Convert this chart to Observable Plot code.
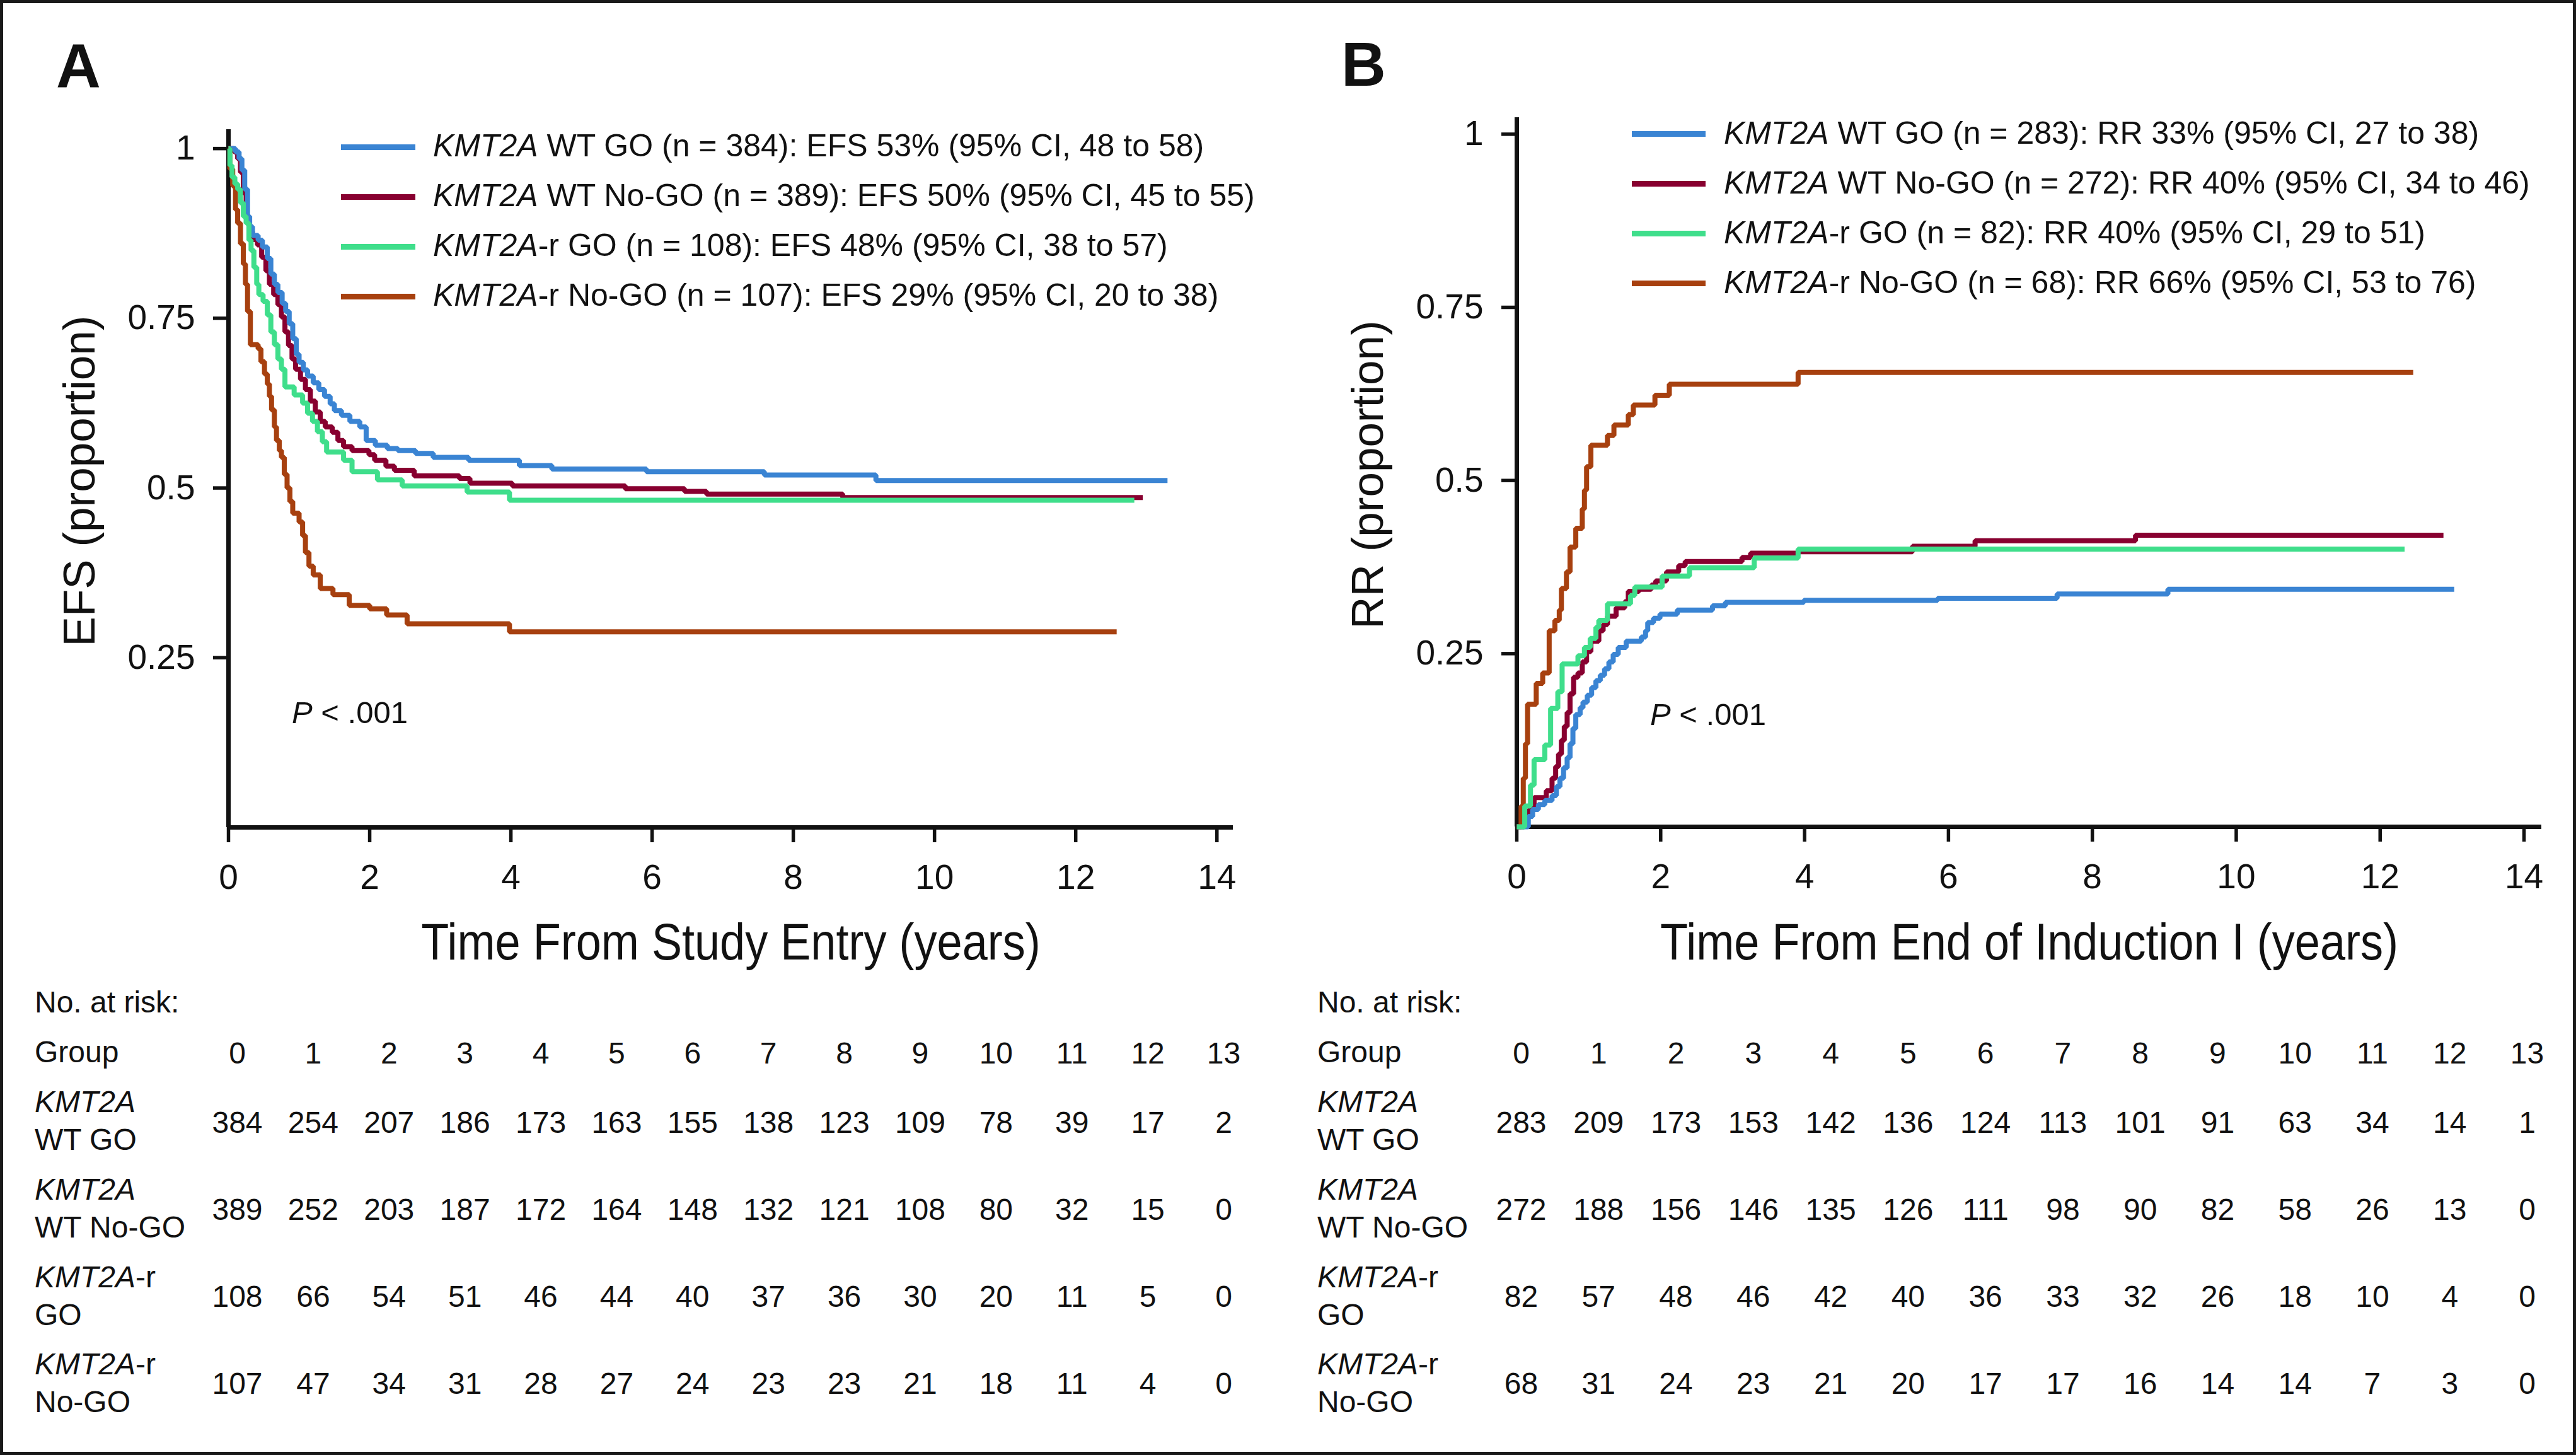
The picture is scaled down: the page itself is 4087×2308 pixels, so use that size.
<!DOCTYPE html>
<html><head><meta charset="utf-8">
<script src="https://cdn.jsdelivr.net/npm/d3@7"></script>
<script src="https://cdn.jsdelivr.net/npm/@observablehq/plot@0.6"></script>
<style>
html,body{margin:0;padding:0;background:#fff;}
#page{position:relative;width:4087px;height:2308px;overflow:hidden;background:#fff;font-family:"Liberation Sans",Arial,Helvetica,sans-serif;color:#111;}
#page > *{position:absolute;}
.frame{left:0;top:0;width:4087px;height:2308px;box-sizing:border-box;border:5px solid #1a1a1a;pointer-events:none;}
.t{white-space:nowrap;}
.sw{height:9px;}
</style></head><body><div id="page"></div>
<script>
// ---------------- DATA ----------------
const groupKeys = ["wtGo", "wtNoGo", "rGo", "rNoGo"];
const groupLabels = ["KMT2A WT GO", "KMT2A WT No-GO", "KMT2A-r GO", "KMT2A-r No-GO"];
const groupColors = ["#3a84d3", "#880030", "#3fde8b", "#a7400f"];

const xTicks = [0, 2, 4, 6, 8, 10, 12, 14];
const yTicks = [0.25, 0.5, 0.75, 1];
const yTickLabels = ["0.25", "0.5", "0.75", "1"];

// Panel A: EFS (step points: time in years, proportion)
const efsWtGoT = [0,0.10,0.15,0.19,0.23,0.27,0.30,0.34,0.42,0.48,0.55,0.60,0.65,0.70,0.76,0.81,0.86,0.91,0.96,1.00,1.06,1.12,1.20,1.28,1.36,1.44,1.50,1.60,1.72,1.86,1.95,2.08,2.25,2.40,2.65,2.90,3.40,4.12,4.58,5.92,7.59,9.17,13.3];
const efsWtGoV = [1,0.995,0.985,0.968,0.94,0.90,0.885,0.872,0.865,0.855,0.838,0.815,0.80,0.788,0.772,0.76,0.742,0.72,0.697,0.685,0.674,0.665,0.655,0.645,0.635,0.624,0.614,0.607,0.598,0.59,0.57,0.563,0.558,0.555,0.551,0.545,0.541,0.533,0.528,0.524,0.519,0.511,0.511];
const efsWtNoGoT = [0,0.08,0.13,0.17,0.21,0.25,0.29,0.34,0.41,0.47,0.53,0.58,0.64,0.70,0.75,0.80,0.85,0.90,0.95,1.02,1.09,1.16,1.23,1.30,1.37,1.47,1.55,1.63,1.75,1.99,2.07,2.23,2.35,2.63,3.27,3.42,4.02,5.62,6.46,6.77,8.7,12.95];
const efsWtNoGoV = [1,0.995,0.985,0.965,0.935,0.90,0.878,0.866,0.858,0.84,0.82,0.80,0.785,0.77,0.752,0.73,0.71,0.69,0.675,0.66,0.645,0.628,0.612,0.598,0.59,0.582,0.57,0.561,0.555,0.549,0.541,0.532,0.526,0.518,0.514,0.507,0.503,0.499,0.495,0.491,0.486,0.486];
const efsRGoT = [0,0.02,0.05,0.09,0.13,0.17,0.21,0.25,0.29,0.32,0.36,0.40,0.43,0.49,0.55,0.60,0.65,0.70,0.75,0.80,0.93,1.05,1.12,1.19,1.26,1.33,1.39,1.63,1.75,2.11,2.46,3.38,3.98,12.83];
const efsRGoV = [1,0.975,0.958,0.948,0.94,0.92,0.90,0.89,0.865,0.85,0.825,0.80,0.785,0.775,0.755,0.73,0.711,0.69,0.675,0.649,0.637,0.625,0.61,0.598,0.583,0.568,0.553,0.541,0.524,0.512,0.503,0.494,0.482,0.482];
const efsRNoGoT = [0,0.02,0.06,0.10,0.13,0.17,0.21,0.24,0.27,0.31,0.42,0.46,0.51,0.55,0.58,0.61,0.65,0.68,0.72,0.75,0.79,0.83,0.87,0.91,1.00,1.05,1.09,1.14,1.20,1.30,1.48,1.71,2.00,2.24,2.53,3.98,12.58];
const efsRNoGoV = [1,0.97,0.945,0.91,0.89,0.86,0.83,0.80,0.76,0.711,0.705,0.686,0.668,0.653,0.635,0.615,0.59,0.57,0.555,0.545,0.52,0.50,0.48,0.463,0.45,0.43,0.405,0.385,0.372,0.352,0.343,0.327,0.322,0.313,0.30,0.288,0.288];

// Panel B: RR (cumulative incidence)
const rrWtGoT = [0,0.16,0.22,0.30,0.39,0.49,0.55,0.60,0.65,0.70,0.74,0.78,0.82,0.88,0.92,0.98,1.04,1.10,1.16,1.22,1.28,1.34,1.41,1.52,1.73,1.79,1.82,1.90,1.99,2.23,2.72,2.90,3.99,5.85,7.51,9.05,13.03];
const rrWtGoV = [0,0.015,0.025,0.032,0.038,0.045,0.058,0.07,0.085,0.10,0.12,0.142,0.162,0.172,0.18,0.19,0.201,0.211,0.219,0.228,0.238,0.249,0.259,0.268,0.274,0.283,0.295,0.301,0.307,0.313,0.319,0.324,0.327,0.330,0.336,0.343,0.343];
const rrWtNoGoT = [0,0.10,0.16,0.24,0.41,0.49,0.54,0.58,0.62,0.66,0.70,0.74,0.79,0.85,0.91,0.97,1.03,1.14,1.20,1.26,1.38,1.50,1.55,1.70,1.87,1.93,2.08,2.25,2.34,3.13,3.25,3.91,5.5,6.37,8.6,12.88];
const rrWtNoGoV = [0,0.015,0.024,0.042,0.052,0.07,0.087,0.105,0.125,0.145,0.165,0.192,0.216,0.222,0.238,0.253,0.268,0.283,0.292,0.304,0.316,0.325,0.340,0.343,0.349,0.355,0.368,0.377,0.383,0.389,0.395,0.397,0.405,0.413,0.421,0.421];
const rrRGoT = [0,0.11,0.19,0.24,0.39,0.47,0.57,0.63,0.85,0.94,1.02,1.10,1.14,1.26,1.58,1.64,2.02,2.40,3.30,3.91,12.34];
const rrRGoV = [0,0.03,0.06,0.097,0.118,0.171,0.195,0.235,0.247,0.259,0.272,0.288,0.298,0.322,0.334,0.346,0.362,0.374,0.388,0.401,0.401];
const rrRNoGoT = [0,0.06,0.09,0.12,0.15,0.27,0.36,0.45,0.53,0.59,0.62,0.69,0.74,0.82,0.91,0.94,0.97,1.03,1.26,1.35,1.55,1.62,1.92,2.12,3.91,12.46];
const rrRNoGoV = [0,0.03,0.07,0.12,0.177,0.207,0.222,0.283,0.298,0.313,0.344,0.368,0.404,0.431,0.459,0.486,0.520,0.551,0.565,0.58,0.595,0.609,0.623,0.639,0.656,0.656];

// Legends
const legendA = ["KMT2A WT GO (n = 384): EFS 53% (95% CI, 48 to 58)", "KMT2A WT No-GO (n = 389): EFS 50% (95% CI, 45 to 55)", "KMT2A-r GO (n = 108): EFS 48% (95% CI, 38 to 57)", "KMT2A-r No-GO (n = 107): EFS 29% (95% CI, 20 to 38)"];
const legendB = ["KMT2A WT GO (n = 283): RR 33% (95% CI, 27 to 38)", "KMT2A WT No-GO (n = 272): RR 40% (95% CI, 34 to 46)", "KMT2A-r GO (n = 82): RR 40% (95% CI, 29 to 51)", "KMT2A-r No-GO (n = 68): RR 66% (95% CI, 53 to 76)"];

// Numbers at risk
const riskTimes = [0,1,2,3,4,5,6,7,8,9,10,11,12,13];
const riskA_wtGo   = [384,254,207,186,173,163,155,138,123,109,78,39,17,2];
const riskA_wtNoGo = [389,252,203,187,172,164,148,132,121,108,80,32,15,0];
const riskA_rGo    = [108,66,54,51,46,44,40,37,36,30,20,11,5,0];
const riskA_rNoGo  = [107,47,34,31,28,27,24,23,23,21,18,11,4,0];
const riskB_wtGo   = [283,209,173,153,142,136,124,113,101,91,63,34,14,1];
const riskB_wtNoGo = [272,188,156,146,135,126,111,98,90,82,58,26,13,0];
const riskB_rGo    = [82,57,48,46,42,40,36,33,32,26,18,10,4,0];
const riskB_rNoGo  = [68,31,24,23,21,20,17,17,16,14,14,7,3,0];

// ---------------- BUILD ----------------
const page = document.getElementById("page");
const FONT = '"Liberation Sans", Arial, Helvetica, sans-serif';
const INK = "#111";

function series(T, V) { return T.map((t, i) => ({t, v: V[i]})); }

function curvePanel(o) {
  const drawOrder = [1, 0, 3, 2];
  return Plot.plot({
    width: o.width, height: 1560,
    marginLeft: 362, marginRight: o.marginRight, marginTop: o.marginTop, marginBottom: o.marginBottom,
    x: {domain: [0, o.xMax]},
    y: {domain: [0, o.yMax]},
    style: {fontFamily: FONT, fontSize: "55px", color: INK, background: "transparent", overflow: "visible"},
    marks: [
      Plot.axisX({ticks: xTicks, tickSize: 24, tickPadding: 34, fontSize: 55, strokeWidth: 5.5, label: null}),
      Plot.axisY({ticks: yTicks, tickSize: 24, tickPadding: 29, fontSize: 55, strokeWidth: 5.5, label: null,
        tickFormat: d => yTickLabels[yTicks.indexOf(d)]}),
      Plot.ruleX([0], {stroke: INK, strokeWidth: 7}),
      Plot.ruleY([0], {stroke: INK, strokeWidth: 7}),
      ...drawOrder.map(i => Plot.line(o.series[i], {x: "t", y: "v", curve: "step-after",
        stroke: groupColors[i], strokeWidth: 8, strokeLinejoin: "miter", strokeLinecap: "butt"})),
      Plot.text([o.xLabel], {frameAnchor: "bottom", lineAnchor: "bottom", textAnchor: "middle", dy: o.xLabelDy, fontSize: 81, fill: INK}),
      Plot.text([o.yLabel], {frameAnchor: "left", lineAnchor: "middle", textAnchor: "middle", rotate: -90, dx: -235, dy: 4, fontSize: 71, fill: INK})
    ]
  });
}

function riskTable(o) {
  const data = o.rows.flatMap((vals, gi) => vals.map((n, ti) => ({time: riskTimes[ti], group: groupLabels[gi], n})));
  return Plot.plot({
    width: o.width, height: 740,
    marginLeft: o.marginLeft, marginRight: o.marginRight, marginTop: 235, marginBottom: 89,
    x: {domain: [0, 13], axis: null},
    y: {type: "point", domain: groupLabels, padding: 0, axis: null},
    style: {fontFamily: FONT, fontSize: "47px", color: INK, background: "transparent", overflow: "visible"},
    marks: [
      Plot.text(riskTimes, {x: d => d, text: d => String(d), frameAnchor: "top", lineAnchor: "bottom", dy: -109, fontSize: 48, fill: INK}),
      Plot.text(data, {x: "time", y: "group", text: d => String(d.n), lineAnchor: "bottom", fontSize: 48, fill: INK})
    ]
  });
}

function place(el, left, top) { el.style.left = left + "px"; el.style.top = top + "px"; page.appendChild(el); return el; }

function condense(svg, label, k) {
  svg.querySelectorAll("text").forEach(el => {
    if (el.textContent === label) {
      const w = el.getComputedTextLength();
      el.setAttribute("textLength", (w * k).toFixed(1));
      el.setAttribute("lengthAdjust", "spacingAndGlyphs");
    }
  });
}

const seriesA = [series(efsWtGoT, efsWtGoV), series(efsWtNoGoT, efsWtNoGoV), series(efsRGoT, efsRGoV), series(efsRNoGoT, efsRNoGoV)];
const seriesB = [series(rrWtGoT, rrWtGoV), series(rrWtNoGoT, rrWtNoGoV), series(rrRGoT, rrRGoV), series(rrRNoGoT, rrRNoGoV)];

const xLabelA = "Time From Study Entry (years)";
const xLabelB = "Time From End of Induction I (years)";

const svgA = place(curvePanel({width: 2044, marginRight: 88, marginTop: 205, marginBottom: 248, xMax: 14.23, yMax: 1.028,
  series: seriesA, xLabel: xLabelA, xLabelDy: 209, yLabel: "EFS (proportion)"}), 0, 0);
const svgB = place(curvePanel({width: 2043, marginRight: 55, marginTop: 186, marginBottom: 249, xMax: 14.245, yMax: 1.024,
  series: seriesB, xLabel: xLabelB, xLabelDy: 210, yLabel: "RR (proportion)"}), 2044, 0);
condense(svgA, xLabelA, 0.89);
condense(svgB, xLabelB, 0.89);

place(riskTable({width: 2044, marginLeft: 376, marginRight: 103, rows: [riskA_wtGo, riskA_wtNoGo, riskA_rGo, riskA_rNoGo]}), 0, 1560);
place(riskTable({width: 2043, marginLeft: 369, marginRight: 78, rows: [riskB_wtGo, riskB_wtNoGo, riskB_rGo, riskB_rNoGo]}), 2044, 1560);

// HTML text helpers (baseline positioning for Liberation Sans)
function addText(html, left, baseline, fs, opts = {}) {
  const d = document.createElement("div");
  d.className = "t";
  const lh = opts.lh || Math.round(fs * 1.2);
  const top = baseline - ((lh - 1.117 * fs) / 2 + 0.905 * fs);
  d.style.fontSize = fs + "px";
  d.style.lineHeight = lh + "px";
  if (opts.bold) d.style.fontWeight = "700";
  d.innerHTML = html;
  return place(d, left, top);
}
const ital = s => s.replace("KMT2A", "<i>KMT2A</i>");

// Panel letters
addText("A", 89, 138, 98, {bold: true});
addText("B", 2128, 136, 98, {bold: true});

// Legends
function legend(labels, lineLeft, lineW, textLeft, firstCenter, step, baseOff) {
  labels.forEach((lab, i) => {
    const c = firstCenter + i * step;
    const sw = document.createElement("div");
    sw.className = "sw";
    sw.style.width = lineW + "px";
    sw.style.background = groupColors[i];
    place(sw, lineLeft, c - 4.5);
    addText(ital(lab), textLeft, c + baseOff, 50);
  });
}
legend(legendA, 541, 118, 687, 233, 79, 15);
legend(legendB, 2589, 117, 2735, 212, 79, 16);

// P values
addText("<i>P</i> &lt; .001", 463, 1147, 49);
addText("<i>P</i> &lt; .001", 2618, 1150, 49);

// Risk table labels
function tableLabels(left) {
  addText("No. at risk:", left, 1607, 48);
  addText("Group", left, 1686, 48);
  groupLabels.forEach((lab, i) => {
    const sp = lab.indexOf(" ");
    const first = lab.slice(0, sp), rest = lab.slice(sp + 1);
    const base = 1795 + i * 138.67 - 30;
    addText(ital(first) + "<br>" + rest, left, base, 48, {lh: 60});
  });
}
tableLabels(55);
tableLabels(2090);

// Outer frame
const fr = document.createElement("div");
fr.className = "frame";
page.appendChild(fr);
</script></body></html>
